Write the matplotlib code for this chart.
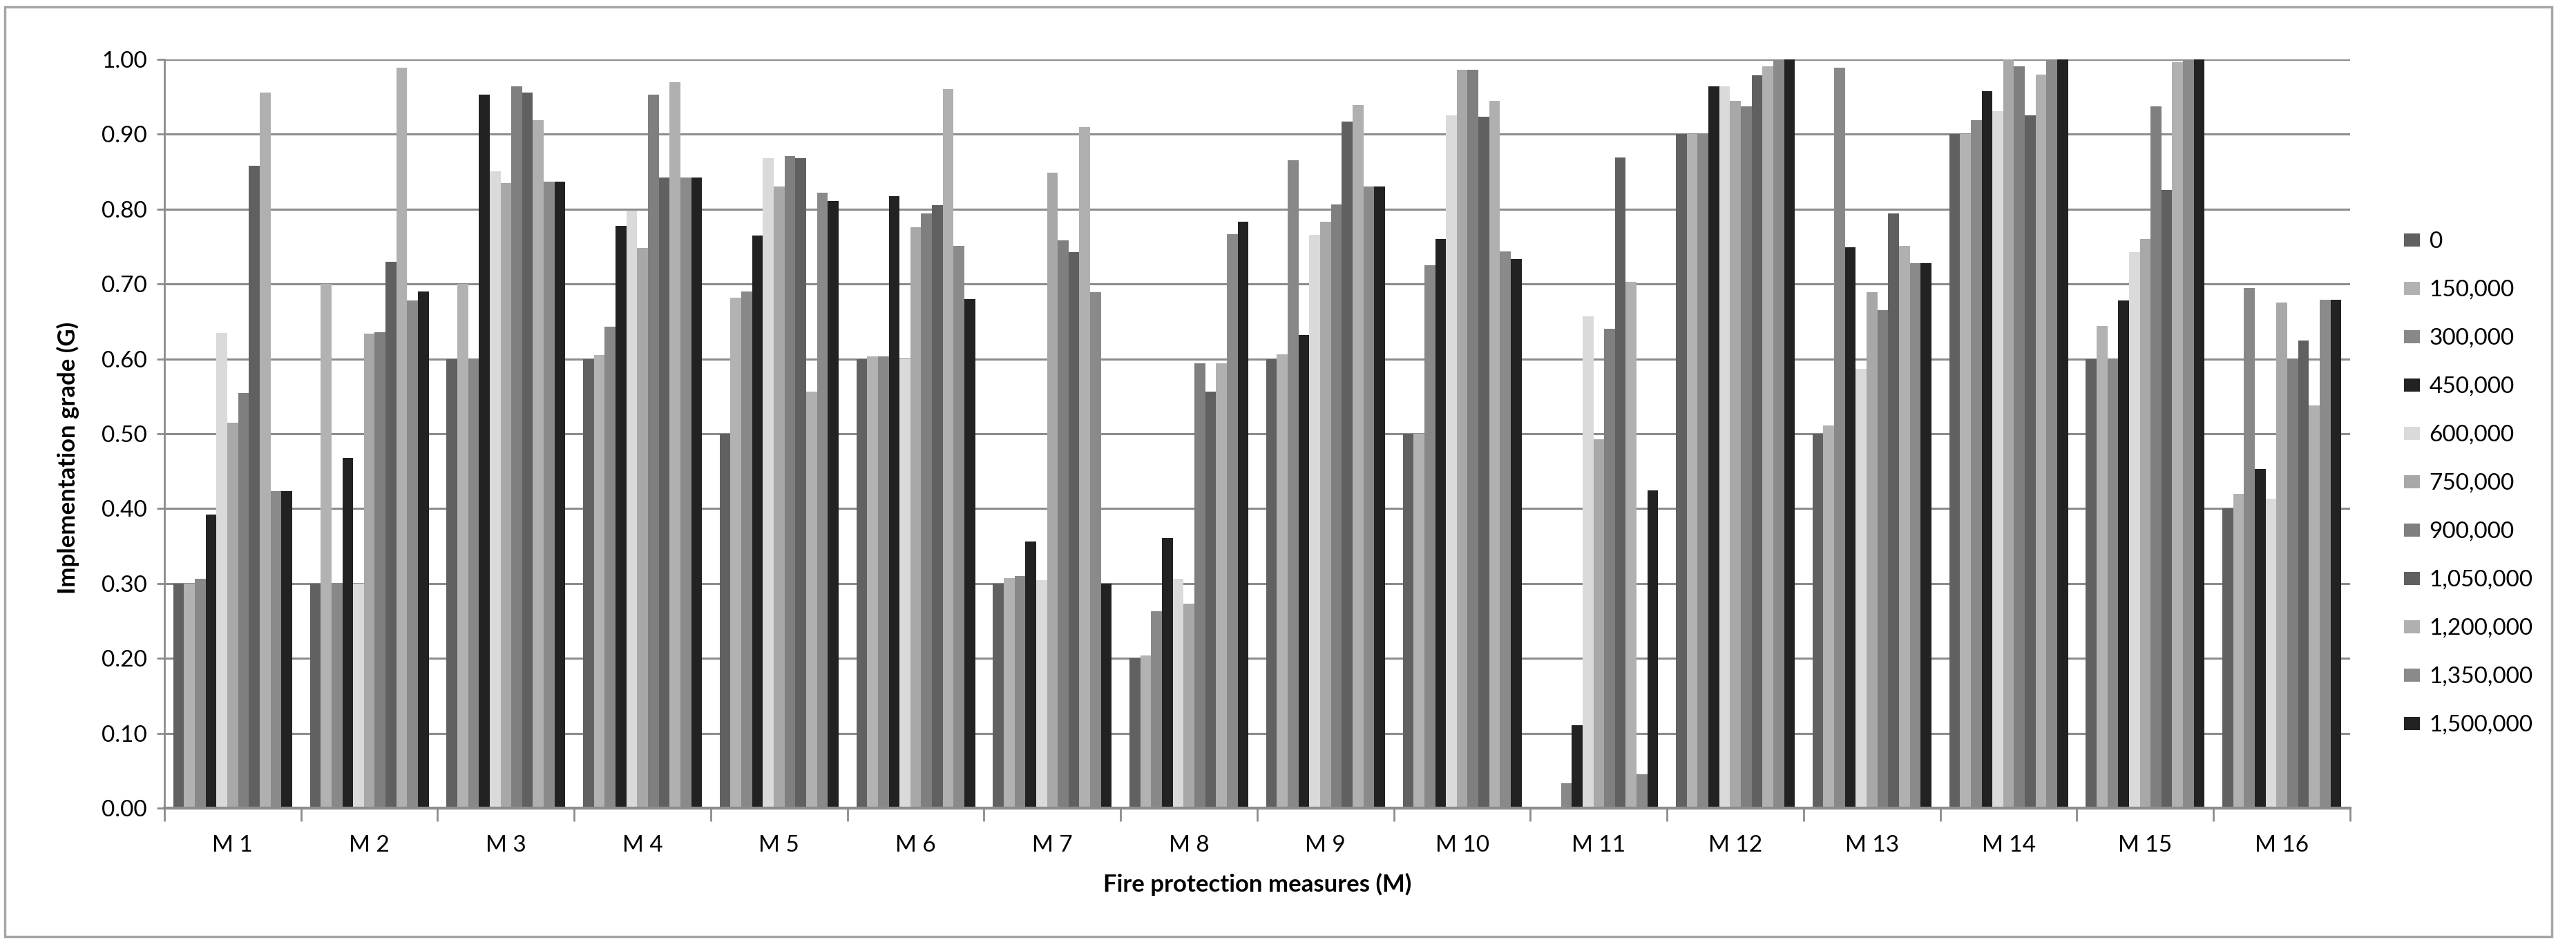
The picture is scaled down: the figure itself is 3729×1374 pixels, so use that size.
import numpy as np
import matplotlib
matplotlib.use("Agg")
from matplotlib import pyplot as plt
from matplotlib.patches import Rectangle, Patch

plt.rcParams['font.family'] = ['Lato', 'DejaVu Sans']

measures = ['M 1', 'M 2', 'M 3', 'M 4', 'M 5', 'M 6', 'M 7', 'M 8',
            'M 9', 'M 10', 'M 11', 'M 12', 'M 13', 'M 14', 'M 15', 'M 16']
budgets = ['0', '150,000', '300,000', '450,000', '600,000', '750,000',
           '900,000', '1,050,000', '1,200,000', '1,350,000', '1,500,000']

# one row per measure, one column per budget
g_m1 = [0.30, 0.30, 0.306, 0.392, 0.635, 0.515, 0.554, 0.858, 0.956, 0.423, 0.423]
g_m2 = [0.30, 0.70, 0.30, 0.468, 0.30, 0.634, 0.636, 0.73, 0.989, 0.678, 0.69]
g_m3 = [0.60, 0.70, 0.60, 0.953, 0.851, 0.835, 0.964, 0.956, 0.919, 0.837, 0.837]
g_m4 = [0.60, 0.605, 0.643, 0.778, 0.798, 0.748, 0.953, 0.842, 0.97, 0.842, 0.842]
g_m5 = [0.50, 0.682, 0.69, 0.765, 0.868, 0.830, 0.871, 0.868, 0.556, 0.822, 0.811]
g_m6 = [0.60, 0.603, 0.603, 0.817, 0.60, 0.776, 0.794, 0.805, 0.96, 0.751, 0.68]
g_m7 = [0.30, 0.307, 0.31, 0.356, 0.304, 0.849, 0.758, 0.743, 0.91, 0.689, 0.30]
g_m8 = [0.20, 0.204, 0.263, 0.361, 0.306, 0.273, 0.594, 0.556, 0.594, 0.767, 0.783]
g_m9 = [0.60, 0.606, 0.865, 0.632, 0.766, 0.783, 0.806, 0.917, 0.939, 0.830, 0.830]
g_m10 = [0.50, 0.50, 0.725, 0.760, 0.925, 0.986, 0.986, 0.923, 0.945, 0.744, 0.733]
g_m11 = [0.0, 0.0, 0.033, 0.111, 0.657, 0.493, 0.640, 0.869, 0.703, 0.045, 0.424]
g_m12 = [0.90, 0.90, 0.90, 0.964, 0.964, 0.945, 0.937, 0.979, 0.991, 1.0, 1.0]
g_m13 = [0.50, 0.511, 0.989, 0.749, 0.587, 0.689, 0.665, 0.794, 0.751, 0.728, 0.728]
g_m14 = [0.90, 0.90, 0.919, 0.958, 0.931, 1.0, 0.991, 0.925, 0.98, 1.0, 1.0]
g_m15 = [0.60, 0.644, 0.60, 0.678, 0.743, 0.760, 0.937, 0.826, 0.996, 1.0, 1.0]
g_m16 = [0.40, 0.420, 0.695, 0.453, 0.413, 0.675, 0.60, 0.625, 0.538, 0.679, 0.679]

grades = np.array([g_m1, g_m2, g_m3, g_m4, g_m5, g_m6, g_m7, g_m8,
                   g_m9, g_m10, g_m11, g_m12, g_m13, g_m14, g_m15, g_m16])

colors = ['#616161', '#b2b2b2', '#888888', '#222222', '#dadada', '#a8a8a8',
          '#7f7f7f', '#606060', '#b0b0b0', '#8a8a8a', '#222222']

W, H = 3730, 1374
fig = plt.figure(figsize=(W / 100, H / 100), dpi=100)
ax = fig.add_axes([238 / W, 1 - 1170 / H, (3402 - 238) / W, (1170 - 86) / H])

n = len(budgets)
x = np.arange(len(measures))
bw = 0.87 / n
for i in range(n):
    ax.bar(x - 0.435 + bw * (i + 0.5), grades[:, i], width=bw,
           color=colors[i], linewidth=0, zorder=3)

ax.set_xlim(-0.5, len(measures) - 0.5)
ax.set_ylim(0, 1.0)
ax.set_yticks(np.arange(0, 1.01, 0.1))
ax.set_yticklabels(['%.2f' % v for v in np.arange(0, 1.01, 0.1)], fontsize=24)
ax.set_xticks(x)
ax.set_xticklabels(measures, fontsize=24)
ax.set_xticks(np.arange(-0.5, len(measures), 1.0), minor=True)
ax.tick_params(axis='x', which='major', length=0, pad=28)
ax.tick_params(axis='x', which='minor', length=14, width=2, color='#8c8c8c', direction='out')
ax.tick_params(axis='y', length=8, width=2, color='#8c8c8c', pad=10)

ax.grid(axis='y', color='#8c8c8c', linewidth=2.2, zorder=0)
for s in ['top', 'right']:
    ax.spines[s].set_visible(False)
ax.spines['left'].set_color('#8c8c8c')
ax.spines['left'].set_linewidth(2)
ax.spines['bottom'].set_color('#8c8c8c')
ax.spines['bottom'].set_linewidth(3)
ax.spines['bottom'].set_zorder(4)

ax.set_ylabel('Implementation grade (G)', fontsize=25, fontweight='bold')
ax.yaxis.set_label_coords(-0.039, 0.468)
ax.set_xlabel('Fire protection measures (M)', fontsize=25, fontweight='bold', labelpad=18)

handles = [Patch(facecolor=c, edgecolor='none') for c in colors]
fig.legend(handles, budgets, loc='center left', bbox_to_anchor=(3450 / W, 1 - 700 / H),
           frameon=False, fontsize=24, handlelength=0.7, handleheight=0.5,
           handletextpad=0.4, labelspacing=1.2)

fig.patches.append(Rectangle((7 / W, 1 - 1356 / H), (3694 - 7) / W, (1356 - 10) / H,
                             transform=fig.transFigure, fill=False,
                             edgecolor='#a6a6a6', linewidth=2.5))

fig.savefig('out.png', dpi=100)
